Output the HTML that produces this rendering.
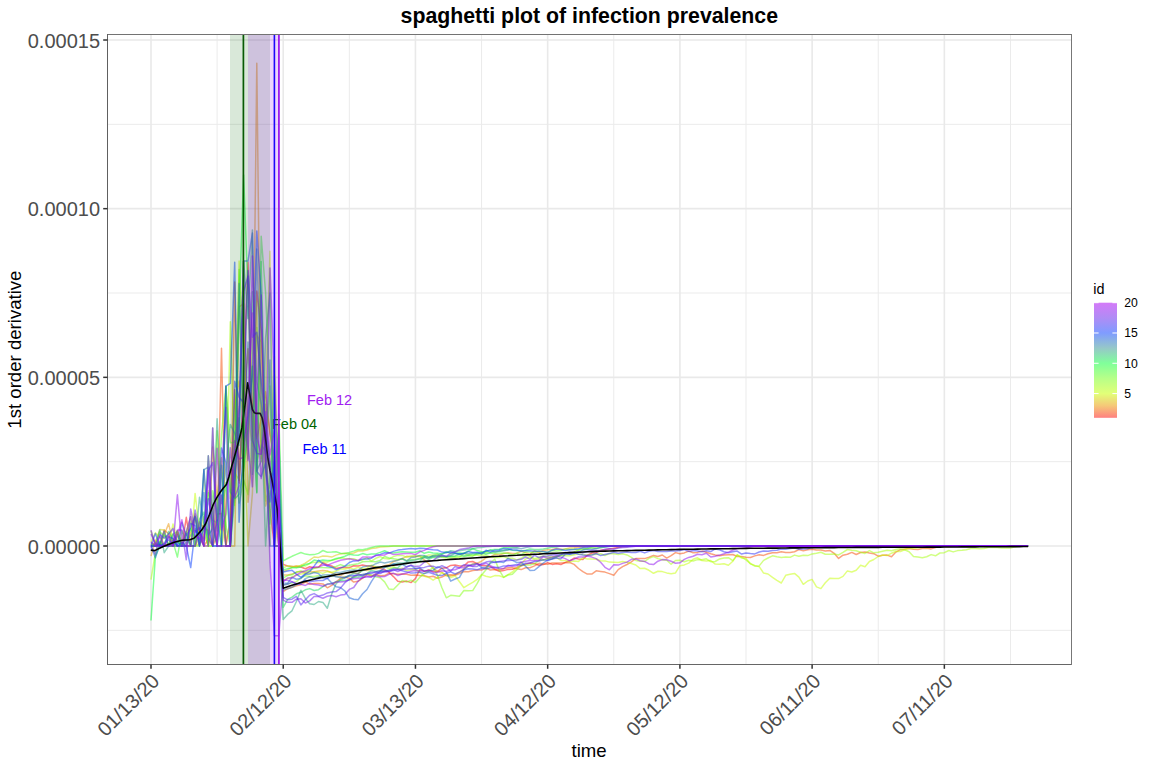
<!DOCTYPE html>
<html><head><meta charset="utf-8"><title>spaghetti plot of infection prevalence</title>
<style>html,body{margin:0;padding:0;background:#fff;overflow:hidden}svg{display:block}</style>
</head><body>
<svg width="1152" height="768" viewBox="0 0 1152 768">
<rect width="1152" height="768" fill="#fff"/>
<defs><clipPath id="pc"><rect x="107.5" y="34.5" width="964.0" height="630.0"/></clipPath></defs>
<g><line x1="217.11" y1="34.5" x2="217.11" y2="664.5" stroke="#ebebeb" stroke-width="1"/><line x1="349.34" y1="34.5" x2="349.34" y2="664.5" stroke="#ebebeb" stroke-width="1"/><line x1="481.56" y1="34.5" x2="481.56" y2="664.5" stroke="#ebebeb" stroke-width="1"/><line x1="613.79" y1="34.5" x2="613.79" y2="664.5" stroke="#ebebeb" stroke-width="1"/><line x1="746.01" y1="34.5" x2="746.01" y2="664.5" stroke="#ebebeb" stroke-width="1"/><line x1="878.24" y1="34.5" x2="878.24" y2="664.5" stroke="#ebebeb" stroke-width="1"/><line x1="1010.46" y1="34.5" x2="1010.46" y2="664.5" stroke="#ebebeb" stroke-width="1"/><line x1="107.5" y1="124.34" x2="1071.5" y2="124.34" stroke="#ebebeb" stroke-width="1"/><line x1="107.5" y1="293.00" x2="1071.5" y2="293.00" stroke="#ebebeb" stroke-width="1"/><line x1="107.5" y1="461.67" x2="1071.5" y2="461.67" stroke="#ebebeb" stroke-width="1"/><line x1="107.5" y1="630.33" x2="1071.5" y2="630.33" stroke="#ebebeb" stroke-width="1"/><line x1="151.00" y1="34.5" x2="151.00" y2="664.5" stroke="#e9e9e9" stroke-width="1.6"/><line x1="283.23" y1="34.5" x2="283.23" y2="664.5" stroke="#e9e9e9" stroke-width="1.6"/><line x1="415.45" y1="34.5" x2="415.45" y2="664.5" stroke="#e9e9e9" stroke-width="1.6"/><line x1="547.67" y1="34.5" x2="547.67" y2="664.5" stroke="#e9e9e9" stroke-width="1.6"/><line x1="679.90" y1="34.5" x2="679.90" y2="664.5" stroke="#e9e9e9" stroke-width="1.6"/><line x1="812.12" y1="34.5" x2="812.12" y2="664.5" stroke="#e9e9e9" stroke-width="1.6"/><line x1="944.35" y1="34.5" x2="944.35" y2="664.5" stroke="#e9e9e9" stroke-width="1.6"/><line x1="107.5" y1="40.01" x2="1071.5" y2="40.01" stroke="#e9e9e9" stroke-width="1.6"/><line x1="107.5" y1="208.67" x2="1071.5" y2="208.67" stroke="#e9e9e9" stroke-width="1.6"/><line x1="107.5" y1="377.34" x2="1071.5" y2="377.34" stroke="#e9e9e9" stroke-width="1.6"/><line x1="107.5" y1="546.00" x2="1071.5" y2="546.00" stroke="#e9e9e9" stroke-width="1.6"/></g>
<g clip-path="url(#pc)">
<polyline points="151.0,546.0 155.4,546.0 159.8,544.3 164.2,546.0 168.6,543.7 173.0,546.0 177.4,532.5 181.9,546.0 186.3,517.3 190.7,546.0 195.1,546.0 199.5,522.0 203.9,528.2 208.3,530.5 212.7,546.0 217.1,513.9 221.5,513.6 225.9,546.0 230.3,520.0 234.7,389.7 239.1,480.5 243.6,381.9 248.0,262.3 252.4,436.6 256.8,291.0 261.2,329.9 265.6,464.6 270.0,509.7 274.4,546.0 278.8,546.0 283.2,564.4 287.6,566.0 292.0,566.4 296.4,566.6 300.9,567.0 305.3,568.7 309.7,566.8 314.1,567.8 318.5,567.2 322.9,562.7 327.3,564.7 331.7,566.0 336.1,568.4 340.5,567.6 344.9,567.4 349.3,567.6 353.7,565.7 358.2,566.1 362.6,565.1 367.0,566.1 371.4,565.8 375.8,567.8 380.2,568.6 384.6,569.7 389.0,572.2 393.4,576.6 397.8,581.3 402.2,582.0 406.6,581.1 411.0,582.6 415.4,578.6 419.9,569.3 424.3,571.4 428.7,570.0 433.1,571.4 437.5,571.6 441.9,568.2 446.3,567.8 450.7,565.4 455.1,565.1 459.5,565.9 463.9,566.1 468.3,561.9 472.7,561.5 477.2,563.6 481.6,565.6 486.0,565.8 490.4,566.6 494.8,569.4 499.2,571.3 503.6,570.6 508.0,569.4 512.4,569.2 516.8,567.8 521.2,565.8 525.6,564.2 530.0,563.0 534.5,563.5 538.9,565.3 543.3,564.5 547.7,562.6 552.1,564.4 556.5,563.7 560.9,564.6 565.3,562.4 569.7,560.8 574.1,558.1 578.5,559.0 582.9,559.5 587.3,555.2 591.8,553.1 596.2,552.7 600.6,550.3 605.0,549.7 609.4,548.9 613.8,548.3 618.2,547.6 622.6,546.8 627.0,546.4 631.4,546.0 635.8,546.0 640.2,546.0 644.6,546.0 649.0,546.0 653.5,546.0 657.9,546.0 662.3,546.0 666.7,546.0 671.1,546.0 675.5,546.0 679.9,546.0 684.3,546.0 688.7,546.0 693.1,546.0 697.5,546.0 701.9,546.0 706.3,546.0 710.8,546.0 715.2,546.0 719.6,546.0 724.0,546.0 728.4,546.0 732.8,546.0 737.2,546.0 741.6,546.0 746.0,546.0 750.4,546.0 754.8,546.0 759.2,546.0 763.6,546.0 768.0,546.0 772.5,546.0 776.9,546.0 781.3,546.0 785.7,546.0 790.1,546.0 794.5,546.0 798.9,546.0 803.3,546.0 807.7,546.0 812.1,546.0 816.5,546.0 820.9,546.0 825.3,546.0 829.8,546.0 834.2,546.0 838.6,546.0 843.0,546.0 847.4,546.0 851.8,546.0 856.2,546.0 860.6,546.0 865.0,546.0 869.4,546.0 873.8,546.0 878.2,546.0 882.6,546.0 887.1,546.0 891.5,546.0 895.9,546.0 900.3,546.0 904.7,546.0 909.1,546.0 913.5,546.0 917.9,546.0 922.3,546.0 926.7,546.0 931.1,546.0 935.5,546.0 939.9,546.0 944.3,546.0 948.8,546.0 953.2,546.0 957.6,546.0 962.0,546.0 966.4,546.0 970.8,546.0 975.2,546.0 979.6,546.0 984.0,546.0 988.4,546.0 992.8,546.0 997.2,546.0 1001.6,546.0 1006.1,546.0 1010.5,546.0 1014.9,546.0 1019.3,546.0 1023.7,546.0 1028.1,546.0" fill="none" stroke="#ff0000" stroke-opacity="0.5" stroke-width="1.5" stroke-linejoin="round"/>
<polyline points="151.0,546.0 155.4,543.8 159.8,546.0 164.2,530.0 168.6,533.7 173.0,546.0 177.4,530.8 181.9,546.0 186.3,546.0 190.7,546.0 195.1,516.2 199.5,534.5 203.9,546.0 208.3,539.3 212.7,546.0 217.1,535.9 221.5,348.3 225.9,546.0 230.3,546.0 234.7,281.9 239.1,483.1 243.6,403.7 248.0,348.7 252.4,411.1 256.8,438.2 261.2,419.4 265.6,391.7 270.0,434.3 274.4,456.2 278.8,546.0 283.2,591.5 287.6,588.7 292.0,587.3 296.4,585.7 300.9,584.7 305.3,582.0 309.7,584.2 314.1,583.6 318.5,583.5 322.9,583.9 327.3,587.8 331.7,585.4 336.1,581.9 340.5,578.4 344.9,577.0 349.3,578.4 353.7,582.1 358.2,581.3 362.6,578.1 367.0,574.4 371.4,575.9 375.8,574.2 380.2,575.8 384.6,575.6 389.0,573.2 393.4,573.8 397.8,574.3 402.2,574.0 406.6,574.2 411.0,575.2 415.4,575.0 419.9,575.5 424.3,575.7 428.7,576.9 433.1,576.2 437.5,578.2 441.9,577.1 446.3,574.9 450.7,574.8 455.1,575.2 459.5,573.6 463.9,571.5 468.3,571.8 472.7,570.5 477.2,570.1 481.6,570.1 486.0,568.0 490.4,570.0 494.8,569.6 499.2,569.9 503.6,568.7 508.0,567.7 512.4,567.6 516.8,568.8 521.2,569.6 525.6,567.7 530.0,567.7 534.5,565.9 538.9,563.3 543.3,564.1 547.7,564.3 552.1,563.0 556.5,563.0 560.9,563.1 565.3,562.7 569.7,562.5 574.1,564.4 578.5,568.5 582.9,571.7 587.3,574.1 591.8,574.1 596.2,570.8 600.6,571.4 605.0,572.1 609.4,573.6 613.8,575.2 618.2,569.6 622.6,566.6 627.0,564.5 631.4,561.8 635.8,558.5 640.2,558.4 644.6,558.6 649.0,557.3 653.5,555.4 657.9,556.5 662.3,555.0 666.7,558.1 671.1,555.7 675.5,552.6 679.9,553.8 684.3,552.9 688.7,551.0 693.1,552.7 697.5,552.4 701.9,551.1 706.3,552.2 710.8,553.7 715.2,555.0 719.6,555.7 724.0,555.0 728.4,554.7 732.8,554.5 737.2,556.5 741.6,556.6 746.0,557.2 750.4,557.5 754.8,555.9 759.2,554.7 763.6,555.4 768.0,553.8 772.5,552.7 776.9,552.8 781.3,551.7 785.7,552.5 790.1,552.4 794.5,551.7 798.9,549.6 803.3,550.8 807.7,549.8 812.1,549.2 816.5,550.0 820.9,550.1 825.3,550.9 829.8,550.4 834.2,553.3 838.6,558.4 843.0,555.2 847.4,554.3 851.8,552.4 856.2,554.5 860.6,552.5 865.0,552.0 869.4,553.0 873.8,553.7 878.2,556.2 882.6,555.2 887.1,555.1 891.5,556.7 895.9,552.1 900.3,549.7 904.7,549.0 909.1,548.6 913.5,549.3 917.9,549.6 922.3,548.6 926.7,548.3 931.1,548.9 935.5,547.6 939.9,546.0 944.3,546.0 948.8,546.0 953.2,546.0 957.6,546.0 962.0,546.0 966.4,546.0 970.8,546.0 975.2,546.0 979.6,546.0 984.0,546.0 988.4,546.0 992.8,546.0 997.2,546.0 1001.6,546.0 1006.1,546.0 1010.5,546.0 1014.9,546.0 1019.3,546.0 1023.7,546.0 1028.1,546.0" fill="none" stroke="#f54800" stroke-opacity="0.5" stroke-width="1.5" stroke-linejoin="round"/>
<polyline points="151.0,556.1 155.4,540.2 159.8,546.0 164.2,534.8 168.6,523.7 173.0,542.8 177.4,546.0 181.9,546.0 186.3,546.0 190.7,532.8 195.1,513.8 199.5,546.0 203.9,533.9 208.3,546.0 212.7,447.0 217.1,499.8 221.5,457.8 225.9,546.0 230.3,546.0 234.7,546.0 239.1,306.9 243.6,303.7 248.0,502.3 252.4,454.9 256.8,63.3 261.2,458.3 265.6,404.3 270.0,431.8 274.4,466.8 278.8,546.0 283.2,575.0 287.6,574.9 292.0,574.1 296.4,572.3 300.9,571.2 305.3,573.0 309.7,571.4 314.1,571.7 318.5,570.9 322.9,570.4 327.3,571.0 331.7,572.8 336.1,574.2 340.5,575.6 344.9,573.2 349.3,572.7 353.7,572.6 358.2,573.8 362.6,569.6 367.0,570.5 371.4,569.1 375.8,569.1 380.2,567.5 384.6,565.8 389.0,564.8 393.4,561.7 397.8,559.9 402.2,558.7 406.6,556.3 411.0,556.5 415.4,556.6 419.9,556.4 424.3,559.9 428.7,563.7 433.1,568.3 437.5,571.2 441.9,572.4 446.3,575.8 450.7,576.1 455.1,574.7 459.5,572.0 463.9,568.9 468.3,566.2 472.7,563.9 477.2,563.2 481.6,561.2 486.0,557.8 490.4,556.8 494.8,554.3 499.2,555.0 503.6,553.5 508.0,552.7 512.4,553.4 516.8,553.2 521.2,551.2 525.6,552.7 530.0,554.2 534.5,550.8 538.9,552.5 543.3,550.5 547.7,549.8 552.1,549.6 556.5,548.5 560.9,549.3 565.3,548.9 569.7,548.1 574.1,547.8 578.5,547.2 582.9,546.9 587.3,546.4 591.8,546.0 596.2,546.0 600.6,546.0 605.0,546.0 609.4,546.0 613.8,546.0 618.2,546.0 622.6,546.0 627.0,546.0 631.4,546.0 635.8,546.0 640.2,546.0 644.6,546.0 649.0,546.0 653.5,546.0 657.9,546.0 662.3,546.0 666.7,546.0 671.1,546.0 675.5,546.0 679.9,546.0 684.3,546.0 688.7,546.0 693.1,546.0 697.5,546.0 701.9,546.0 706.3,546.0 710.8,546.0 715.2,546.0 719.6,546.0 724.0,546.0 728.4,546.0 732.8,546.0 737.2,546.0 741.6,546.0 746.0,546.0 750.4,546.0 754.8,546.0 759.2,546.0 763.6,546.0 768.0,546.0 772.5,546.0 776.9,546.0 781.3,546.0 785.7,546.0 790.1,546.0 794.5,546.0 798.9,546.0 803.3,546.0 807.7,546.0 812.1,546.0 816.5,546.0 820.9,546.0 825.3,546.0 829.8,546.0 834.2,546.0 838.6,546.0 843.0,546.0 847.4,546.0 851.8,546.0 856.2,546.0 860.6,546.0 865.0,546.0 869.4,546.0 873.8,546.0 878.2,546.0 882.6,546.0 887.1,546.0 891.5,546.0 895.9,546.0 900.3,546.0 904.7,546.0 909.1,546.0 913.5,546.0 917.9,546.0 922.3,546.0 926.7,546.0 931.1,546.0 935.5,546.0 939.9,546.0 944.3,546.0 948.8,546.0 953.2,546.0 957.6,546.0 962.0,546.0 966.4,546.0 970.8,546.0 975.2,546.0 979.6,546.0 984.0,546.0 988.4,546.0 992.8,546.0 997.2,546.0 1001.6,546.0 1006.1,546.0 1010.5,546.0 1014.9,546.0 1019.3,546.0 1023.7,546.0 1028.1,546.0" fill="none" stroke="#eb9100" stroke-opacity="0.5" stroke-width="1.5" stroke-linejoin="round"/>
<polyline points="151.0,546.0 155.4,542.5 159.8,529.5 164.2,530.0 168.6,546.0 173.0,546.0 177.4,546.0 181.9,546.0 186.3,546.0 190.7,546.0 195.1,546.0 199.5,543.3 203.9,537.4 208.3,490.7 212.7,508.4 217.1,546.0 221.5,546.0 225.9,546.0 230.3,546.0 234.7,405.2 239.1,380.9 243.6,420.6 248.0,546.0 252.4,493.5 256.8,335.1 261.2,342.2 265.6,506.0 270.0,490.8 274.4,503.9 278.8,546.0 283.2,571.5 287.6,569.9 292.0,567.4 296.4,565.7 300.9,565.5 305.3,563.1 309.7,560.1 314.1,557.0 318.5,557.4 322.9,556.0 327.3,556.3 331.7,557.1 336.1,555.1 340.5,553.9 344.9,553.2 349.3,553.7 353.7,553.0 358.2,551.0 362.6,551.0 367.0,550.0 371.4,548.6 375.8,548.0 380.2,547.1 384.6,546.7 389.0,546.4 393.4,546.0 397.8,546.0 402.2,546.0 406.6,546.0 411.0,546.0 415.4,546.0 419.9,546.0 424.3,546.0 428.7,546.0 433.1,546.0 437.5,546.0 441.9,546.0 446.3,546.0 450.7,546.0 455.1,546.0 459.5,546.0 463.9,546.0 468.3,546.0 472.7,546.0 477.2,546.0 481.6,546.0 486.0,546.0 490.4,546.0 494.8,546.0 499.2,546.0 503.6,546.0 508.0,546.0 512.4,546.0 516.8,546.0 521.2,546.0 525.6,546.0 530.0,546.0 534.5,546.0 538.9,546.0 543.3,546.0 547.7,546.0 552.1,546.0 556.5,546.0 560.9,546.0 565.3,546.0 569.7,546.0 574.1,546.0 578.5,546.0 582.9,546.0 587.3,546.0 591.8,546.0 596.2,546.0 600.6,546.0 605.0,546.0 609.4,546.0 613.8,546.0 618.2,546.0 622.6,546.0 627.0,546.0 631.4,546.0 635.8,546.0 640.2,546.0 644.6,546.0 649.0,546.0 653.5,546.0 657.9,546.0 662.3,546.0 666.7,546.0 671.1,546.0 675.5,546.0 679.9,546.0 684.3,546.0 688.7,546.0 693.1,546.0 697.5,546.0 701.9,546.0 706.3,546.0 710.8,546.0 715.2,546.0 719.6,546.0 724.0,546.0 728.4,546.0 732.8,546.0 737.2,546.0 741.6,546.0 746.0,546.0 750.4,546.0 754.8,546.0 759.2,546.0 763.6,546.0 768.0,546.0 772.5,546.0 776.9,546.0 781.3,546.0 785.7,546.0 790.1,546.0 794.5,546.0 798.9,546.0 803.3,546.0 807.7,546.0 812.1,546.0 816.5,546.0 820.9,546.0 825.3,546.0 829.8,546.0 834.2,546.0 838.6,546.0 843.0,546.0 847.4,546.0 851.8,546.0 856.2,546.0 860.6,546.0 865.0,546.0 869.4,546.0 873.8,546.0 878.2,546.0 882.6,546.0 887.1,546.0 891.5,546.0 895.9,546.0 900.3,546.0 904.7,546.0 909.1,546.0 913.5,546.0 917.9,546.0 922.3,546.0 926.7,546.0 931.1,546.0 935.5,546.0 939.9,546.0 944.3,546.0 948.8,546.0 953.2,546.0 957.6,546.0 962.0,546.0 966.4,546.0 970.8,546.0 975.2,546.0 979.6,546.0 984.0,546.0 988.4,546.0 992.8,546.0 997.2,546.0 1001.6,546.0 1006.1,546.0 1010.5,546.0 1014.9,546.0 1019.3,546.0 1023.7,546.0 1028.1,546.0" fill="none" stroke="#d8c800" stroke-opacity="0.5" stroke-width="1.5" stroke-linejoin="round"/>
<polyline points="151.0,541.9 155.4,532.7 159.8,537.2 164.2,544.0 168.6,546.0 173.0,523.9 177.4,539.8 181.9,546.0 186.3,546.0 190.7,546.0 195.1,493.4 199.5,531.6 203.9,516.3 208.3,546.0 212.7,524.3 217.1,546.0 221.5,546.0 225.9,386.2 230.3,491.1 234.7,505.4 239.1,261.0 243.6,346.0 248.0,415.6 252.4,446.1 256.8,301.2 261.2,461.6 265.6,393.2 270.0,251.2 274.4,546.0 278.8,522.3 283.2,579.9 287.6,578.8 292.0,576.9 296.4,575.2 300.9,574.1 305.3,573.5 309.7,573.5 314.1,572.0 318.5,572.2 322.9,573.4 327.3,571.6 331.7,572.2 336.1,571.1 340.5,569.0 344.9,569.0 349.3,567.9 353.7,569.1 358.2,567.2 362.6,568.8 367.0,568.2 371.4,565.1 375.8,566.7 380.2,567.7 384.6,566.5 389.0,568.5 393.4,566.8 397.8,568.9 402.2,568.2 406.6,570.7 411.0,569.7 415.4,569.2 419.9,572.6 424.3,576.3 428.7,577.4 433.1,580.2 437.5,577.3 441.9,572.6 446.3,575.0 450.7,577.6 455.1,576.0 459.5,581.8 463.9,587.7 468.3,584.9 472.7,582.4 477.2,579.4 481.6,574.6 486.0,576.2 490.4,577.2 494.8,575.6 499.2,575.7 503.6,577.4 508.0,574.6 512.4,572.0 516.8,567.8 521.2,563.8 525.6,558.9 530.0,557.1 534.5,559.7 538.9,558.7 543.3,559.8 547.7,558.7 552.1,558.9 556.5,557.6 560.9,560.4 565.3,560.5 569.7,561.7 574.1,561.1 578.5,561.4 582.9,557.8 587.3,559.1 591.8,558.9 596.2,559.3 600.6,560.7 605.0,560.9 609.4,562.1 613.8,562.3 618.2,562.5 622.6,561.5 627.0,562.3 631.4,563.5 635.8,565.0 640.2,568.6 644.6,568.2 649.0,570.3 653.5,573.3 657.9,571.2 662.3,571.6 666.7,572.9 671.1,573.7 675.5,572.9 679.9,565.7 684.3,564.9 688.7,563.1 693.1,559.3 697.5,557.8 701.9,560.5 706.3,561.0 710.8,560.5 715.2,564.1 719.6,564.3 724.0,563.8 728.4,565.3 732.8,561.3 737.2,554.7 741.6,558.1 746.0,558.6 750.4,563.7 754.8,565.4 759.2,566.7 763.6,573.1 768.0,574.0 772.5,577.3 776.9,580.4 781.3,583.0 785.7,575.3 790.1,574.3 794.5,573.4 798.9,577.1 803.3,584.3 807.7,581.0 812.1,579.4 816.5,586.9 820.9,588.6 825.3,582.7 829.8,578.3 834.2,578.6 838.6,578.6 843.0,576.4 847.4,570.9 851.8,572.0 856.2,570.2 860.6,565.3 865.0,566.7 869.4,561.5 873.8,559.5 878.2,556.5 882.6,555.0 887.1,555.6 891.5,553.2 895.9,551.2 900.3,551.5 904.7,549.7 909.1,548.2 913.5,548.4 917.9,547.7 922.3,547.5 926.7,547.5 931.1,547.3 935.5,547.0 939.9,546.8 944.3,546.7 948.8,546.7 953.2,546.3 957.6,546.1 962.0,546.0 966.4,546.0 970.8,546.0 975.2,546.0 979.6,546.0 984.0,546.0 988.4,546.0 992.8,546.0 997.2,546.0 1001.6,546.0 1006.1,546.0 1010.5,546.0 1014.9,546.0 1019.3,546.0 1023.7,546.0 1028.1,546.0" fill="none" stroke="#c5ff00" stroke-opacity="0.5" stroke-width="1.5" stroke-linejoin="round"/>
<polyline points="151.0,579.7 155.4,552.7 159.8,540.9 164.2,546.0 168.6,546.0 173.0,546.0 177.4,546.0 181.9,546.0 186.3,531.5 190.7,516.6 195.1,546.0 199.5,538.1 203.9,469.6 208.3,546.0 212.7,546.0 217.1,497.0 221.5,546.0 225.9,524.3 230.3,321.7 234.7,472.9 239.1,479.9 243.6,409.4 248.0,458.9 252.4,337.4 256.8,411.8 261.2,443.5 265.6,500.9 270.0,484.9 274.4,356.3 278.8,482.4 283.2,568.0 287.6,565.7 292.0,566.6 296.4,567.5 300.9,565.3 305.3,566.1 309.7,563.3 314.1,562.2 318.5,562.5 322.9,561.8 327.3,562.0 331.7,560.3 336.1,559.2 340.5,557.8 344.9,558.4 349.3,558.8 353.7,558.8 358.2,560.6 362.6,559.9 367.0,557.7 371.4,561.1 375.8,558.3 380.2,556.6 384.6,558.6 389.0,559.0 393.4,556.6 397.8,555.4 402.2,555.4 406.6,557.3 411.0,556.3 415.4,555.4 419.9,555.7 424.3,557.1 428.7,554.9 433.1,555.3 437.5,554.3 441.9,557.3 446.3,558.0 450.7,558.1 455.1,557.6 459.5,557.2 463.9,553.4 468.3,555.1 472.7,555.3 477.2,555.3 481.6,555.1 486.0,555.4 490.4,556.8 494.8,557.5 499.2,557.5 503.6,556.6 508.0,558.2 512.4,558.3 516.8,559.9 521.2,558.3 525.6,555.2 530.0,556.1 534.5,558.6 538.9,557.2 543.3,556.1 547.7,556.9 552.1,556.8 556.5,556.7 560.9,555.6 565.3,555.7 569.7,555.7 574.1,554.7 578.5,553.8 582.9,554.5 587.3,555.2 591.8,554.7 596.2,554.2 600.6,553.7 605.0,555.5 609.4,553.6 613.8,553.7 618.2,554.4 622.6,553.8 627.0,554.9 631.4,557.3 635.8,560.5 640.2,561.3 644.6,561.3 649.0,558.4 653.5,556.6 657.9,558.6 662.3,559.8 666.7,560.3 671.1,564.3 675.5,560.5 679.9,560.3 684.3,561.8 688.7,560.3 693.1,561.0 697.5,559.6 701.9,559.7 706.3,558.8 710.8,561.7 715.2,561.5 719.6,558.9 724.0,558.0 728.4,557.7 732.8,560.6 737.2,555.1 741.6,557.1 746.0,559.9 750.4,563.6 754.8,566.2 759.2,565.9 763.6,560.4 768.0,558.0 772.5,555.8 776.9,556.8 781.3,557.4 785.7,557.1 790.1,557.3 794.5,555.1 798.9,556.3 803.3,555.3 807.7,555.6 812.1,553.9 816.5,553.2 820.9,552.2 825.3,554.2 829.8,554.2 834.2,553.9 838.6,554.9 843.0,552.3 847.4,549.5 851.8,550.3 856.2,550.8 860.6,552.3 865.0,553.4 869.4,550.6 873.8,552.8 878.2,552.3 882.6,551.2 887.1,550.2 891.5,550.8 895.9,549.5 900.3,548.7 904.7,549.8 909.1,551.7 913.5,556.4 917.9,557.1 922.3,557.8 926.7,556.7 931.1,554.6 935.5,555.8 939.9,553.0 944.3,552.7 948.8,550.5 953.2,551.9 957.6,550.6 962.0,550.3 966.4,549.7 970.8,548.5 975.2,548.6 979.6,548.7 984.0,548.5 988.4,547.5 992.8,547.2 997.2,547.6 1001.6,548.1 1006.1,548.1 1010.5,548.1 1014.9,546.9 1019.3,546.0 1023.7,546.0 1028.1,546.0" fill="none" stroke="#a3ff07" stroke-opacity="0.5" stroke-width="1.5" stroke-linejoin="round"/>
<polyline points="151.0,530.8 155.4,546.0 159.8,531.8 164.2,536.0 168.6,537.1 173.0,542.1 177.4,531.1 181.9,546.0 186.3,535.1 190.7,521.4 195.1,546.0 199.5,528.7 203.9,546.0 208.3,546.0 212.7,546.0 217.1,430.7 221.5,546.0 225.9,386.2 230.3,498.6 234.7,467.1 239.1,503.0 243.6,479.8 248.0,494.5 252.4,432.5 256.8,327.5 261.2,388.5 265.6,420.4 270.0,546.0 274.4,450.8 278.8,525.5 283.2,584.9 287.6,584.1 292.0,582.9 296.4,581.6 300.9,578.0 305.3,575.7 309.7,576.5 314.1,576.4 318.5,575.5 322.9,576.4 327.3,576.6 331.7,576.0 336.1,576.4 340.5,577.7 344.9,577.0 349.3,576.1 353.7,577.5 358.2,574.8 362.6,574.6 367.0,574.1 371.4,575.1 375.8,576.7 380.2,577.7 384.6,581.9 389.0,589.1 393.4,589.4 397.8,584.9 402.2,580.4 406.6,582.0 411.0,580.2 415.4,582.6 419.9,577.3 424.3,573.4 428.7,571.3 433.1,567.1 437.5,575.4 441.9,587.7 446.3,597.8 450.7,595.3 455.1,595.8 459.5,596.3 463.9,590.5 468.3,590.7 472.7,590.6 477.2,583.4 481.6,575.1 486.0,569.8 490.4,562.3 494.8,559.3 499.2,570.1 503.6,577.4 508.0,575.0 512.4,574.2 516.8,569.7 521.2,565.6 525.6,565.1 530.0,564.9 534.5,563.8 538.9,560.5 543.3,560.1 547.7,558.7 552.1,557.5 556.5,556.3 560.9,554.9 565.3,554.5 569.7,553.0 574.1,551.9 578.5,550.0 582.9,549.5 587.3,548.5 591.8,547.1 596.2,546.9 600.6,546.4 605.0,546.0 609.4,546.0 613.8,546.0 618.2,546.0 622.6,546.0 627.0,546.0 631.4,546.0 635.8,546.0 640.2,546.0 644.6,546.0 649.0,546.0 653.5,546.0 657.9,546.0 662.3,546.0 666.7,546.0 671.1,546.0 675.5,546.0 679.9,546.0 684.3,546.0 688.7,546.0 693.1,546.0 697.5,546.0 701.9,546.0 706.3,546.0 710.8,546.0 715.2,546.0 719.6,546.0 724.0,546.0 728.4,546.0 732.8,546.0 737.2,546.0 741.6,546.0 746.0,546.0 750.4,546.0 754.8,546.0 759.2,546.0 763.6,546.0 768.0,546.0 772.5,546.0 776.9,546.0 781.3,546.0 785.7,546.0 790.1,546.0 794.5,546.0 798.9,546.0 803.3,546.0 807.7,546.0 812.1,546.0 816.5,546.0 820.9,546.0 825.3,546.0 829.8,546.0 834.2,546.0 838.6,546.0 843.0,546.0 847.4,546.0 851.8,546.0 856.2,546.0 860.6,546.0 865.0,546.0 869.4,546.0 873.8,546.0 878.2,546.0 882.6,546.0 887.1,546.0 891.5,546.0 895.9,546.0 900.3,546.0 904.7,546.0 909.1,546.0 913.5,546.0 917.9,546.0 922.3,546.0 926.7,546.0 931.1,546.0 935.5,546.0 939.9,546.0 944.3,546.0 948.8,546.0 953.2,546.0 957.6,546.0 962.0,546.0 966.4,546.0 970.8,546.0 975.2,546.0 979.6,546.0 984.0,546.0 988.4,546.0 992.8,546.0 997.2,546.0 1001.6,546.0 1006.1,546.0 1010.5,546.0 1014.9,546.0 1019.3,546.0 1023.7,546.0 1028.1,546.0" fill="none" stroke="#82ff0e" stroke-opacity="0.5" stroke-width="1.5" stroke-linejoin="round"/>
<polyline points="151.0,544.3 155.4,546.0 159.8,546.0 164.2,546.0 168.6,546.0 173.0,533.9 177.4,531.7 181.9,543.1 186.3,531.4 190.7,546.0 195.1,546.0 199.5,546.0 203.9,521.9 208.3,546.0 212.7,490.8 217.1,514.9 221.5,435.0 225.9,386.2 230.3,442.8 234.7,442.2 239.1,269.4 243.6,445.5 248.0,430.3 252.4,366.2 256.8,461.5 261.2,444.9 265.6,450.7 270.0,386.1 274.4,546.0 278.8,546.0 283.2,577.9 287.6,575.6 292.0,574.8 296.4,572.1 300.9,571.3 305.3,571.5 309.7,570.3 314.1,568.3 318.5,567.4 322.9,567.6 327.3,567.7 331.7,567.8 336.1,566.5 340.5,564.6 344.9,566.3 349.3,565.2 353.7,564.5 358.2,563.8 362.6,561.7 367.0,561.4 371.4,561.4 375.8,561.7 380.2,560.4 384.6,556.5 389.0,558.0 393.4,558.7 397.8,559.5 402.2,559.0 406.6,560.5 411.0,559.7 415.4,559.3 419.9,558.6 424.3,555.9 428.7,557.1 433.1,557.1 437.5,555.8 441.9,556.6 446.3,556.9 450.7,556.2 455.1,556.5 459.5,556.6 463.9,556.7 468.3,555.8 472.7,556.2 477.2,553.5 481.6,554.0 486.0,552.5 490.4,552.9 494.8,553.7 499.2,553.2 503.6,553.1 508.0,553.4 512.4,555.2 516.8,553.2 521.2,554.6 525.6,552.1 530.0,552.1 534.5,552.5 538.9,551.2 543.3,551.8 547.7,552.3 552.1,550.5 556.5,550.9 560.9,550.5 565.3,548.9 569.7,549.5 574.1,549.0 578.5,549.7 582.9,548.5 587.3,549.1 591.8,548.1 596.2,548.4 600.6,547.7 605.0,546.9 609.4,546.1 613.8,546.0 618.2,546.0 622.6,546.0 627.0,546.0 631.4,546.0 635.8,546.0 640.2,546.0 644.6,546.0 649.0,546.0 653.5,546.0 657.9,546.0 662.3,546.0 666.7,546.0 671.1,546.0 675.5,546.0 679.9,546.0 684.3,546.0 688.7,546.0 693.1,546.0 697.5,546.0 701.9,546.0 706.3,546.0 710.8,546.0 715.2,546.0 719.6,546.0 724.0,546.0 728.4,546.0 732.8,546.0 737.2,546.0 741.6,546.0 746.0,546.0 750.4,546.0 754.8,546.0 759.2,546.0 763.6,546.0 768.0,546.0 772.5,546.0 776.9,546.0 781.3,546.0 785.7,546.0 790.1,546.0 794.5,546.0 798.9,546.0 803.3,546.0 807.7,546.0 812.1,546.0 816.5,546.0 820.9,546.0 825.3,546.0 829.8,546.0 834.2,546.0 838.6,546.0 843.0,546.0 847.4,546.0 851.8,546.0 856.2,546.0 860.6,546.0 865.0,546.0 869.4,546.0 873.8,546.0 878.2,546.0 882.6,546.0 887.1,546.0 891.5,546.0 895.9,546.0 900.3,546.0 904.7,546.0 909.1,546.0 913.5,546.0 917.9,546.0 922.3,546.0 926.7,546.0 931.1,546.0 935.5,546.0 939.9,546.0 944.3,546.0 948.8,546.0 953.2,546.0 957.6,546.0 962.0,546.0 966.4,546.0 970.8,546.0 975.2,546.0 979.6,546.0 984.0,546.0 988.4,546.0 992.8,546.0 997.2,546.0 1001.6,546.0 1006.1,546.0 1010.5,546.0 1014.9,546.0 1019.3,546.0 1023.7,546.0 1028.1,546.0" fill="none" stroke="#5bff18" stroke-opacity="0.5" stroke-width="1.5" stroke-linejoin="round"/>
<polyline points="151.0,546.0 155.4,546.0 159.8,543.5 164.2,534.8 168.6,546.0 173.0,541.9 177.4,557.1 181.9,530.6 186.3,540.6 190.7,535.5 195.1,528.4 199.5,540.6 203.9,529.3 208.3,455.7 212.7,520.2 217.1,522.8 221.5,495.6 225.9,525.3 230.3,546.0 234.7,457.1 239.1,417.7 243.6,471.2 248.0,432.0 252.4,366.2 256.8,493.0 261.2,236.3 265.6,293.0 270.0,396.9 274.4,524.1 278.8,414.0 283.2,560.8 287.6,558.5 292.0,556.3 296.4,554.4 300.9,552.5 305.3,554.1 309.7,554.7 314.1,554.6 318.5,553.4 322.9,550.5 327.3,552.3 331.7,552.1 336.1,551.8 340.5,553.3 344.9,553.4 349.3,552.4 353.7,551.1 358.2,549.5 362.6,549.8 367.0,548.8 371.4,547.5 375.8,546.6 380.2,546.0 384.6,546.0 389.0,546.0 393.4,546.0 397.8,546.0 402.2,546.0 406.6,546.0 411.0,546.0 415.4,546.0 419.9,546.0 424.3,546.0 428.7,546.0 433.1,546.0 437.5,546.0 441.9,546.0 446.3,546.0 450.7,546.0 455.1,546.0 459.5,546.0 463.9,546.0 468.3,546.0 472.7,546.0 477.2,546.0 481.6,546.0 486.0,546.0 490.4,546.0 494.8,546.0 499.2,546.0 503.6,546.0 508.0,546.0 512.4,546.0 516.8,546.0 521.2,546.0 525.6,546.0 530.0,546.0 534.5,546.0 538.9,546.0 543.3,546.0 547.7,546.0 552.1,546.0 556.5,546.0 560.9,546.0 565.3,546.0 569.7,546.0 574.1,546.0 578.5,546.0 582.9,546.0 587.3,546.0 591.8,546.0 596.2,546.0 600.6,546.0 605.0,546.0 609.4,546.0 613.8,546.0 618.2,546.0 622.6,546.0 627.0,546.0 631.4,546.0 635.8,546.0 640.2,546.0 644.6,546.0 649.0,546.0 653.5,546.0 657.9,546.0 662.3,546.0 666.7,546.0 671.1,546.0 675.5,546.0 679.9,546.0 684.3,546.0 688.7,546.0 693.1,546.0 697.5,546.0 701.9,546.0 706.3,546.0 710.8,546.0 715.2,546.0 719.6,546.0 724.0,546.0 728.4,546.0 732.8,546.0 737.2,546.0 741.6,546.0 746.0,546.0 750.4,546.0 754.8,546.0 759.2,546.0 763.6,546.0 768.0,546.0 772.5,546.0 776.9,546.0 781.3,546.0 785.7,546.0 790.1,546.0 794.5,546.0 798.9,546.0 803.3,546.0 807.7,546.0 812.1,546.0 816.5,546.0 820.9,546.0 825.3,546.0 829.8,546.0 834.2,546.0 838.6,546.0 843.0,546.0 847.4,546.0 851.8,546.0 856.2,546.0 860.6,546.0 865.0,546.0 869.4,546.0 873.8,546.0 878.2,546.0 882.6,546.0 887.1,546.0 891.5,546.0 895.9,546.0 900.3,546.0 904.7,546.0 909.1,546.0 913.5,546.0 917.9,546.0 922.3,546.0 926.7,546.0 931.1,546.0 935.5,546.0 939.9,546.0 944.3,546.0 948.8,546.0 953.2,546.0 957.6,546.0 962.0,546.0 966.4,546.0 970.8,546.0 975.2,546.0 979.6,546.0 984.0,546.0 988.4,546.0 992.8,546.0 997.2,546.0 1001.6,546.0 1006.1,546.0 1010.5,546.0 1014.9,546.0 1019.3,546.0 1023.7,546.0 1028.1,546.0" fill="none" stroke="#2eff27" stroke-opacity="0.5" stroke-width="1.5" stroke-linejoin="round"/>
<polyline points="151.0,620.5 155.4,556.1 159.8,546.0 164.2,546.0 168.6,546.0 173.0,546.0 177.4,541.7 181.9,546.0 186.3,542.6 190.7,528.7 195.1,538.3 199.5,534.3 203.9,546.0 208.3,492.7 212.7,523.3 217.1,546.0 221.5,515.6 225.9,482.6 230.3,546.0 234.7,460.8 239.1,309.9 243.6,174.9 248.0,293.0 252.4,426.9 256.8,492.3 261.2,261.4 265.6,443.2 270.0,523.9 274.4,375.7 278.8,546.0 283.2,569.9 287.6,568.6 292.0,567.8 296.4,567.8 300.9,566.9 305.3,564.5 309.7,563.5 314.1,560.1 318.5,561.0 322.9,560.1 327.3,560.4 331.7,560.2 336.1,558.5 340.5,557.8 344.9,556.3 349.3,554.2 353.7,555.1 358.2,555.2 362.6,553.6 367.0,554.7 371.4,554.0 375.8,553.9 380.2,552.4 384.6,550.8 389.0,552.7 393.4,553.0 397.8,552.2 402.2,551.7 406.6,551.9 411.0,552.3 415.4,552.2 419.9,550.8 424.3,553.3 428.7,552.0 433.1,552.9 437.5,553.3 441.9,553.9 446.3,551.8 450.7,553.6 455.1,553.3 459.5,553.1 463.9,553.3 468.3,551.3 472.7,548.5 477.2,550.6 481.6,551.7 486.0,551.5 490.4,549.9 494.8,549.4 499.2,549.2 503.6,547.8 508.0,547.5 512.4,547.1 516.8,546.9 521.2,546.1 525.6,546.0 530.0,546.0 534.5,546.0 538.9,546.0 543.3,546.0 547.7,546.0 552.1,546.0 556.5,546.0 560.9,546.0 565.3,546.0 569.7,546.0 574.1,546.0 578.5,546.0 582.9,546.0 587.3,546.0 591.8,546.0 596.2,546.0 600.6,546.0 605.0,546.0 609.4,546.0 613.8,546.0 618.2,546.0 622.6,546.0 627.0,546.0 631.4,546.0 635.8,546.0 640.2,546.0 644.6,546.0 649.0,546.0 653.5,546.0 657.9,546.0 662.3,546.0 666.7,546.0 671.1,546.0 675.5,546.0 679.9,546.0 684.3,546.0 688.7,546.0 693.1,546.0 697.5,546.0 701.9,546.0 706.3,546.0 710.8,546.0 715.2,546.0 719.6,546.0 724.0,546.0 728.4,546.0 732.8,546.0 737.2,546.0 741.6,546.0 746.0,546.0 750.4,546.0 754.8,546.0 759.2,546.0 763.6,546.0 768.0,546.0 772.5,546.0 776.9,546.0 781.3,546.0 785.7,546.0 790.1,546.0 794.5,546.0 798.9,546.0 803.3,546.0 807.7,546.0 812.1,546.0 816.5,546.0 820.9,546.0 825.3,546.0 829.8,546.0 834.2,546.0 838.6,546.0 843.0,546.0 847.4,546.0 851.8,546.0 856.2,546.0 860.6,546.0 865.0,546.0 869.4,546.0 873.8,546.0 878.2,546.0 882.6,546.0 887.1,546.0 891.5,546.0 895.9,546.0 900.3,546.0 904.7,546.0 909.1,546.0 913.5,546.0 917.9,546.0 922.3,546.0 926.7,546.0 931.1,546.0 935.5,546.0 939.9,546.0 944.3,546.0 948.8,546.0 953.2,546.0 957.6,546.0 962.0,546.0 966.4,546.0 970.8,546.0 975.2,546.0 979.6,546.0 984.0,546.0 988.4,546.0 992.8,546.0 997.2,546.0 1001.6,546.0 1006.1,546.0 1010.5,546.0 1014.9,546.0 1019.3,546.0 1023.7,546.0 1028.1,546.0" fill="none" stroke="#01ff35" stroke-opacity="0.5" stroke-width="1.5" stroke-linejoin="round"/>
<polyline points="151.0,542.7 155.4,546.0 159.8,541.5 164.2,546.0 168.6,531.4 173.0,540.2 177.4,546.0 181.9,546.0 186.3,546.0 190.7,546.0 195.1,546.0 199.5,519.1 203.9,512.1 208.3,546.0 212.7,427.9 217.1,530.9 221.5,465.2 225.9,546.0 230.3,546.0 234.7,499.1 239.1,494.3 243.6,467.2 248.0,421.5 252.4,291.8 256.8,381.8 261.2,404.5 265.6,546.0 270.0,473.1 274.4,475.0 278.8,430.8 283.2,607.4 287.6,599.4 292.0,597.1 296.4,593.8 300.9,592.3 305.3,589.8 309.7,588.6 314.1,590.5 318.5,589.7 322.9,586.7 327.3,584.1 331.7,583.6 336.1,581.7 340.5,580.8 344.9,580.4 349.3,580.1 353.7,577.2 358.2,577.0 362.6,575.9 367.0,573.3 371.4,570.5 375.8,571.4 380.2,570.7 384.6,571.4 389.0,570.0 393.4,568.1 397.8,567.7 402.2,564.0 406.6,563.4 411.0,562.0 415.4,562.8 419.9,561.1 424.3,556.6 428.7,559.3 433.1,557.3 437.5,557.9 441.9,556.5 446.3,556.5 450.7,556.6 455.1,555.9 459.5,554.2 463.9,555.8 468.3,554.9 472.7,554.0 477.2,554.1 481.6,552.6 486.0,554.2 490.4,552.7 494.8,552.1 499.2,551.5 503.6,550.2 508.0,549.5 512.4,550.2 516.8,550.4 521.2,550.9 525.6,550.3 530.0,549.0 534.5,549.4 538.9,549.5 543.3,549.1 547.7,548.2 552.1,547.2 556.5,546.9 560.9,546.1 565.3,546.0 569.7,546.0 574.1,546.0 578.5,546.0 582.9,546.0 587.3,546.0 591.8,546.0 596.2,546.0 600.6,546.0 605.0,546.0 609.4,546.0 613.8,546.0 618.2,546.0 622.6,546.0 627.0,546.0 631.4,546.0 635.8,546.0 640.2,546.0 644.6,546.0 649.0,546.0 653.5,546.0 657.9,546.0 662.3,546.0 666.7,546.0 671.1,546.0 675.5,546.0 679.9,546.0 684.3,546.0 688.7,546.0 693.1,546.0 697.5,546.0 701.9,546.0 706.3,546.0 710.8,546.0 715.2,546.0 719.6,546.0 724.0,546.0 728.4,546.0 732.8,546.0 737.2,546.0 741.6,546.0 746.0,546.0 750.4,546.0 754.8,546.0 759.2,546.0 763.6,546.0 768.0,546.0 772.5,546.0 776.9,546.0 781.3,546.0 785.7,546.0 790.1,546.0 794.5,546.0 798.9,546.0 803.3,546.0 807.7,546.0 812.1,546.0 816.5,546.0 820.9,546.0 825.3,546.0 829.8,546.0 834.2,546.0 838.6,546.0 843.0,546.0 847.4,546.0 851.8,546.0 856.2,546.0 860.6,546.0 865.0,546.0 869.4,546.0 873.8,546.0 878.2,546.0 882.6,546.0 887.1,546.0 891.5,546.0 895.9,546.0 900.3,546.0 904.7,546.0 909.1,546.0 913.5,546.0 917.9,546.0 922.3,546.0 926.7,546.0 931.1,546.0 935.5,546.0 939.9,546.0 944.3,546.0 948.8,546.0 953.2,546.0 957.6,546.0 962.0,546.0 966.4,546.0 970.8,546.0 975.2,546.0 979.6,546.0 984.0,546.0 988.4,546.0 992.8,546.0 997.2,546.0 1001.6,546.0 1006.1,546.0 1010.5,546.0 1014.9,546.0 1019.3,546.0 1023.7,546.0 1028.1,546.0" fill="none" stroke="#13d35a" stroke-opacity="0.5" stroke-width="1.5" stroke-linejoin="round"/>
<polyline points="151.0,546.0 155.4,546.0 159.8,529.9 164.2,552.7 168.6,546.0 173.0,533.9 177.4,541.7 181.9,546.0 186.3,537.1 190.7,546.0 195.1,546.0 199.5,497.3 203.9,522.0 208.3,535.1 212.7,528.8 217.1,418.7 221.5,503.5 225.9,468.3 230.3,424.4 234.7,433.4 239.1,445.4 243.6,261.1 248.0,318.5 252.4,229.9 256.8,470.8 261.2,461.3 265.6,337.7 270.0,293.0 274.4,546.0 278.8,546.0 283.2,619.5 287.6,614.4 292.0,610.8 296.4,601.5 300.9,590.3 305.3,598.4 309.7,603.7 314.1,604.5 318.5,601.5 322.9,602.4 327.3,608.2 331.7,593.9 336.1,583.7 340.5,579.7 344.9,577.7 349.3,575.4 353.7,573.5 358.2,573.3 362.6,570.5 367.0,569.4 371.4,568.6 375.8,567.4 380.2,567.8 384.6,566.6 389.0,565.9 393.4,564.0 397.8,563.0 402.2,563.1 406.6,562.2 411.0,560.4 415.4,559.9 419.9,558.8 424.3,557.6 428.7,558.0 433.1,555.4 437.5,554.9 441.9,554.1 446.3,552.6 450.7,550.7 455.1,551.5 459.5,550.8 463.9,550.0 468.3,549.3 472.7,548.7 477.2,547.8 481.6,547.5 486.0,546.7 490.4,546.4 494.8,546.0 499.2,546.0 503.6,546.0 508.0,546.0 512.4,546.0 516.8,546.0 521.2,546.0 525.6,546.0 530.0,546.0 534.5,546.0 538.9,546.0 543.3,546.0 547.7,546.0 552.1,546.0 556.5,546.0 560.9,546.0 565.3,546.0 569.7,546.0 574.1,546.0 578.5,546.0 582.9,546.0 587.3,546.0 591.8,546.0 596.2,546.0 600.6,546.0 605.0,546.0 609.4,546.0 613.8,546.0 618.2,546.0 622.6,546.0 627.0,546.0 631.4,546.0 635.8,546.0 640.2,546.0 644.6,546.0 649.0,546.0 653.5,546.0 657.9,546.0 662.3,546.0 666.7,546.0 671.1,546.0 675.5,546.0 679.9,546.0 684.3,546.0 688.7,546.0 693.1,546.0 697.5,546.0 701.9,546.0 706.3,546.0 710.8,546.0 715.2,546.0 719.6,546.0 724.0,546.0 728.4,546.0 732.8,546.0 737.2,546.0 741.6,546.0 746.0,546.0 750.4,546.0 754.8,546.0 759.2,546.0 763.6,546.0 768.0,546.0 772.5,546.0 776.9,546.0 781.3,546.0 785.7,546.0 790.1,546.0 794.5,546.0 798.9,546.0 803.3,546.0 807.7,546.0 812.1,546.0 816.5,546.0 820.9,546.0 825.3,546.0 829.8,546.0 834.2,546.0 838.6,546.0 843.0,546.0 847.4,546.0 851.8,546.0 856.2,546.0 860.6,546.0 865.0,546.0 869.4,546.0 873.8,546.0 878.2,546.0 882.6,546.0 887.1,546.0 891.5,546.0 895.9,546.0 900.3,546.0 904.7,546.0 909.1,546.0 913.5,546.0 917.9,546.0 922.3,546.0 926.7,546.0 931.1,546.0 935.5,546.0 939.9,546.0 944.3,546.0 948.8,546.0 953.2,546.0 957.6,546.0 962.0,546.0 966.4,546.0 970.8,546.0 975.2,546.0 979.6,546.0 984.0,546.0 988.4,546.0 992.8,546.0 997.2,546.0 1001.6,546.0 1006.1,546.0 1010.5,546.0 1014.9,546.0 1019.3,546.0 1023.7,546.0 1028.1,546.0" fill="none" stroke="#24a77f" stroke-opacity="0.5" stroke-width="1.5" stroke-linejoin="round"/>
<polyline points="151.0,546.0 155.4,546.0 159.8,544.2 164.2,546.0 168.6,546.0 173.0,546.0 177.4,534.9 181.9,546.0 186.3,533.5 190.7,546.0 195.1,516.9 199.5,546.0 203.9,469.6 208.3,467.2 212.7,546.0 217.1,546.0 221.5,546.0 225.9,386.2 230.3,492.0 234.7,498.4 239.1,283.6 243.6,451.6 248.0,342.0 252.4,474.6 256.8,249.1 261.2,400.0 265.6,453.8 270.0,359.9 274.4,546.0 278.8,434.9 283.2,589.9 287.6,588.7 292.0,587.3 296.4,584.5 300.9,583.9 305.3,578.6 309.7,576.7 314.1,578.1 318.5,576.9 322.9,574.9 327.3,574.7 331.7,574.7 336.1,572.5 340.5,572.5 344.9,571.3 349.3,570.6 353.7,570.0 358.2,570.2 362.6,567.1 367.0,566.1 371.4,566.1 375.8,563.7 380.2,562.0 384.6,563.0 389.0,562.1 393.4,561.1 397.8,560.4 402.2,558.5 406.6,561.2 411.0,557.6 415.4,556.9 419.9,555.4 424.3,555.6 428.7,557.3 433.1,556.2 437.5,556.2 441.9,555.0 446.3,556.8 450.7,555.5 455.1,553.4 459.5,554.4 463.9,553.3 468.3,553.6 472.7,553.1 477.2,552.9 481.6,552.6 486.0,551.3 490.4,550.1 494.8,551.9 499.2,551.0 503.6,550.8 508.0,549.9 512.4,548.3 516.8,548.1 521.2,548.8 525.6,547.6 530.0,546.7 534.5,546.0 538.9,546.0 543.3,546.0 547.7,546.0 552.1,546.0 556.5,546.0 560.9,546.0 565.3,546.0 569.7,546.0 574.1,546.0 578.5,546.0 582.9,546.0 587.3,546.0 591.8,546.0 596.2,546.0 600.6,546.0 605.0,546.0 609.4,546.0 613.8,546.0 618.2,546.0 622.6,546.0 627.0,546.0 631.4,546.0 635.8,546.0 640.2,546.0 644.6,546.0 649.0,546.0 653.5,546.0 657.9,546.0 662.3,546.0 666.7,546.0 671.1,546.0 675.5,546.0 679.9,546.0 684.3,546.0 688.7,546.0 693.1,546.0 697.5,546.0 701.9,546.0 706.3,546.0 710.8,546.0 715.2,546.0 719.6,546.0 724.0,546.0 728.4,546.0 732.8,546.0 737.2,546.0 741.6,546.0 746.0,546.0 750.4,546.0 754.8,546.0 759.2,546.0 763.6,546.0 768.0,546.0 772.5,546.0 776.9,546.0 781.3,546.0 785.7,546.0 790.1,546.0 794.5,546.0 798.9,546.0 803.3,546.0 807.7,546.0 812.1,546.0 816.5,546.0 820.9,546.0 825.3,546.0 829.8,546.0 834.2,546.0 838.6,546.0 843.0,546.0 847.4,546.0 851.8,546.0 856.2,546.0 860.6,546.0 865.0,546.0 869.4,546.0 873.8,546.0 878.2,546.0 882.6,546.0 887.1,546.0 891.5,546.0 895.9,546.0 900.3,546.0 904.7,546.0 909.1,546.0 913.5,546.0 917.9,546.0 922.3,546.0 926.7,546.0 931.1,546.0 935.5,546.0 939.9,546.0 944.3,546.0 948.8,546.0 953.2,546.0 957.6,546.0 962.0,546.0 966.4,546.0 970.8,546.0 975.2,546.0 979.6,546.0 984.0,546.0 988.4,546.0 992.8,546.0 997.2,546.0 1001.6,546.0 1006.1,546.0 1010.5,546.0 1014.9,546.0 1019.3,546.0 1023.7,546.0 1028.1,546.0" fill="none" stroke="#247fa7" stroke-opacity="0.5" stroke-width="1.5" stroke-linejoin="round"/>
<polyline points="151.0,546.0 155.4,557.8 159.8,544.3 164.2,531.1 168.6,546.0 173.0,540.7 177.4,546.0 181.9,522.3 186.3,535.7 190.7,527.9 195.1,516.1 199.5,546.0 203.9,492.5 208.3,537.3 212.7,546.0 217.1,520.0 221.5,546.0 225.9,546.0 230.3,546.0 234.7,474.2 239.1,432.6 243.6,261.1 248.0,261.1 252.4,233.0 256.8,471.4 261.2,476.7 265.6,463.0 270.0,546.0 274.4,546.0 278.8,481.8 283.2,583.0 287.6,583.3 292.0,577.2 296.4,579.3 300.9,578.4 305.3,574.6 309.7,574.0 314.1,572.5 318.5,573.4 322.9,577.9 327.3,578.2 331.7,582.9 336.1,586.7 340.5,587.6 344.9,591.0 349.3,597.8 353.7,599.3 358.2,599.7 362.6,593.8 367.0,589.5 371.4,581.6 375.8,574.9 380.2,571.3 384.6,567.6 389.0,566.3 393.4,564.0 397.8,564.5 402.2,564.4 406.6,566.8 411.0,565.4 415.4,568.7 419.9,568.1 424.3,571.1 428.7,571.0 433.1,570.3 437.5,566.8 441.9,568.3 446.3,572.2 450.7,581.2 455.1,579.0 459.5,577.4 463.9,569.3 468.3,565.9 472.7,564.5 477.2,563.5 481.6,567.6 486.0,567.4 490.4,563.1 494.8,562.1 499.2,561.8 503.6,562.5 508.0,558.4 512.4,560.4 516.8,562.5 521.2,562.2 525.6,566.3 530.0,570.5 534.5,570.3 538.9,566.6 543.3,563.0 547.7,560.0 552.1,558.7 556.5,556.8 560.9,554.9 565.3,552.6 569.7,554.3 574.1,553.5 578.5,552.3 582.9,550.1 587.3,549.2 591.8,549.4 596.2,548.6 600.6,547.4 605.0,547.0 609.4,546.6 613.8,546.1 618.2,546.0 622.6,546.0 627.0,546.0 631.4,546.0 635.8,546.0 640.2,546.0 644.6,546.0 649.0,546.0 653.5,546.0 657.9,546.0 662.3,546.0 666.7,546.0 671.1,546.0 675.5,546.0 679.9,546.0 684.3,546.0 688.7,546.0 693.1,546.0 697.5,546.0 701.9,546.0 706.3,546.0 710.8,546.0 715.2,546.0 719.6,546.0 724.0,546.0 728.4,546.0 732.8,546.0 737.2,546.0 741.6,546.0 746.0,546.0 750.4,546.0 754.8,546.0 759.2,546.0 763.6,546.0 768.0,546.0 772.5,546.0 776.9,546.0 781.3,546.0 785.7,546.0 790.1,546.0 794.5,546.0 798.9,546.0 803.3,546.0 807.7,546.0 812.1,546.0 816.5,546.0 820.9,546.0 825.3,546.0 829.8,546.0 834.2,546.0 838.6,546.0 843.0,546.0 847.4,546.0 851.8,546.0 856.2,546.0 860.6,546.0 865.0,546.0 869.4,546.0 873.8,546.0 878.2,546.0 882.6,546.0 887.1,546.0 891.5,546.0 895.9,546.0 900.3,546.0 904.7,546.0 909.1,546.0 913.5,546.0 917.9,546.0 922.3,546.0 926.7,546.0 931.1,546.0 935.5,546.0 939.9,546.0 944.3,546.0 948.8,546.0 953.2,546.0 957.6,546.0 962.0,546.0 966.4,546.0 970.8,546.0 975.2,546.0 979.6,546.0 984.0,546.0 988.4,546.0 992.8,546.0 997.2,546.0 1001.6,546.0 1006.1,546.0 1010.5,546.0 1014.9,546.0 1019.3,546.0 1023.7,546.0 1028.1,546.0" fill="none" stroke="#125cd3" stroke-opacity="0.5" stroke-width="1.5" stroke-linejoin="round"/>
<polyline points="151.0,546.0 155.4,533.6 159.8,546.0 164.2,543.5 168.6,536.8 173.0,538.5 177.4,546.0 181.9,542.4 186.3,546.0 190.7,567.6 195.1,530.5 199.5,534.4 203.9,469.6 208.3,522.3 212.7,546.0 217.1,546.0 221.5,546.0 225.9,386.2 230.3,383.4 234.7,262.3 239.1,522.2 243.6,442.3 248.0,415.4 252.4,375.0 256.8,230.9 261.2,297.0 265.6,470.8 270.0,502.0 274.4,461.0 278.8,546.0 283.2,571.9 287.6,571.1 292.0,570.2 296.4,574.1 300.9,577.4 305.3,573.9 309.7,571.6 314.1,566.1 318.5,560.2 322.9,563.7 327.3,566.0 331.7,567.2 336.1,569.7 340.5,568.1 344.9,566.1 349.3,562.5 353.7,560.9 358.2,560.8 362.6,559.1 367.0,558.9 371.4,558.2 375.8,555.3 380.2,554.4 384.6,552.7 389.0,553.1 393.4,551.4 397.8,550.1 402.2,549.6 406.6,548.9 411.0,548.6 415.4,548.9 419.9,548.3 424.3,548.5 428.7,549.3 433.1,549.8 437.5,550.0 441.9,552.1 446.3,552.4 450.7,551.9 455.1,552.9 459.5,553.9 463.9,553.4 468.3,551.4 472.7,552.4 477.2,552.2 481.6,553.9 486.0,550.3 490.4,551.9 494.8,550.3 499.2,550.0 503.6,548.6 508.0,548.8 512.4,549.8 516.8,549.9 521.2,550.9 525.6,550.8 530.0,550.7 534.5,551.2 538.9,551.3 543.3,551.4 547.7,552.4 552.1,550.2 556.5,549.0 560.9,549.5 565.3,550.4 569.7,549.8 574.1,549.4 578.5,548.8 582.9,547.7 587.3,547.3 591.8,546.5 596.2,546.3 600.6,546.0 605.0,546.0 609.4,546.0 613.8,546.0 618.2,546.0 622.6,546.0 627.0,546.0 631.4,546.0 635.8,546.0 640.2,546.0 644.6,546.0 649.0,546.0 653.5,546.0 657.9,546.0 662.3,546.0 666.7,546.0 671.1,546.0 675.5,546.0 679.9,546.0 684.3,546.0 688.7,546.0 693.1,546.0 697.5,546.0 701.9,546.0 706.3,546.0 710.8,546.0 715.2,546.0 719.6,546.0 724.0,546.0 728.4,546.0 732.8,546.0 737.2,546.0 741.6,546.0 746.0,546.0 750.4,546.0 754.8,546.0 759.2,546.0 763.6,546.0 768.0,546.0 772.5,546.0 776.9,546.0 781.3,546.0 785.7,546.0 790.1,546.0 794.5,546.0 798.9,546.0 803.3,546.0 807.7,546.0 812.1,546.0 816.5,546.0 820.9,546.0 825.3,546.0 829.8,546.0 834.2,546.0 838.6,546.0 843.0,546.0 847.4,546.0 851.8,546.0 856.2,546.0 860.6,546.0 865.0,546.0 869.4,546.0 873.8,546.0 878.2,546.0 882.6,546.0 887.1,546.0 891.5,546.0 895.9,546.0 900.3,546.0 904.7,546.0 909.1,546.0 913.5,546.0 917.9,546.0 922.3,546.0 926.7,546.0 931.1,546.0 935.5,546.0 939.9,546.0 944.3,546.0 948.8,546.0 953.2,546.0 957.6,546.0 962.0,546.0 966.4,546.0 970.8,546.0 975.2,546.0 979.6,546.0 984.0,546.0 988.4,546.0 992.8,546.0 997.2,546.0 1001.6,546.0 1006.1,546.0 1010.5,546.0 1014.9,546.0 1019.3,546.0 1023.7,546.0 1028.1,546.0" fill="none" stroke="#0039ff" stroke-opacity="0.5" stroke-width="1.5" stroke-linejoin="round"/>
<polyline points="151.0,546.0 155.4,546.0 159.8,546.0 164.2,546.0 168.6,538.8 173.0,546.0 177.4,546.0 181.9,546.0 186.3,546.0 190.7,523.3 195.1,525.6 199.5,546.0 203.9,528.0 208.3,470.7 212.7,462.6 217.1,520.7 221.5,448.0 225.9,462.5 230.3,546.0 234.7,381.3 239.1,397.3 243.6,402.7 248.0,270.6 252.4,337.0 256.8,332.3 261.2,379.5 265.6,423.1 270.0,468.1 274.4,546.0 278.8,494.6 283.2,585.0 287.6,584.3 292.0,581.8 296.4,584.4 300.9,582.7 305.3,580.1 309.7,581.8 314.1,580.9 318.5,580.6 322.9,580.5 327.3,578.4 331.7,575.3 336.1,576.7 340.5,577.1 344.9,577.7 349.3,575.8 353.7,575.4 358.2,575.6 362.6,574.6 367.0,573.8 371.4,573.6 375.8,571.9 380.2,573.5 384.6,571.2 389.0,571.2 393.4,570.5 397.8,569.6 402.2,570.7 406.6,571.9 411.0,573.1 415.4,572.8 419.9,572.0 424.3,573.6 428.7,572.3 433.1,573.8 437.5,575.2 441.9,575.6 446.3,573.3 450.7,571.8 455.1,574.0 459.5,572.1 463.9,569.7 468.3,568.7 472.7,569.1 477.2,569.7 481.6,568.3 486.0,568.8 490.4,567.7 494.8,567.3 499.2,567.4 503.6,565.9 508.0,566.0 512.4,565.2 516.8,564.6 521.2,565.3 525.6,563.3 530.0,563.0 534.5,561.4 538.9,561.0 543.3,559.8 547.7,560.5 552.1,559.1 556.5,558.0 560.9,558.7 565.3,554.2 569.7,554.3 574.1,552.4 578.5,554.2 582.9,555.1 587.3,555.4 591.8,555.0 596.2,553.5 600.6,555.6 605.0,554.6 609.4,553.6 613.8,552.2 618.2,553.2 622.6,552.5 627.0,552.1 631.4,552.5 635.8,552.5 640.2,551.3 644.6,552.9 649.0,551.2 653.5,550.5 657.9,551.5 662.3,551.6 666.7,551.5 671.1,550.9 675.5,551.1 679.9,550.5 684.3,549.6 688.7,551.4 693.1,550.5 697.5,551.0 701.9,551.7 706.3,550.7 710.8,551.6 715.2,548.9 719.6,549.7 724.0,551.7 728.4,552.7 732.8,551.7 737.2,551.1 741.6,554.1 746.0,553.0 750.4,553.5 754.8,553.9 759.2,552.0 763.6,551.1 768.0,551.3 772.5,550.4 776.9,550.2 781.3,549.1 785.7,549.2 790.1,548.5 794.5,548.0 798.9,549.3 803.3,548.9 807.7,548.7 812.1,547.4 816.5,546.8 820.9,546.1 825.3,546.0 829.8,546.0 834.2,546.0 838.6,546.0 843.0,546.0 847.4,546.0 851.8,546.0 856.2,546.0 860.6,546.0 865.0,546.0 869.4,546.0 873.8,546.0 878.2,546.0 882.6,546.0 887.1,546.0 891.5,546.0 895.9,546.0 900.3,546.0 904.7,546.0 909.1,546.0 913.5,546.0 917.9,546.0 922.3,546.0 926.7,546.0 931.1,546.0 935.5,546.0 939.9,546.0 944.3,546.0 948.8,546.0 953.2,546.0 957.6,546.0 962.0,546.0 966.4,546.0 970.8,546.0 975.2,546.0 979.6,546.0 984.0,546.0 988.4,546.0 992.8,546.0 997.2,546.0 1001.6,546.0 1006.1,546.0 1010.5,546.0 1014.9,546.0 1019.3,546.0 1023.7,546.0 1028.1,546.0" fill="none" stroke="#272cf7" stroke-opacity="0.5" stroke-width="1.5" stroke-linejoin="round"/>
<polyline points="151.0,546.0 155.4,554.4 159.8,534.4 164.2,538.1 168.6,534.3 173.0,528.5 177.4,546.0 181.9,546.0 186.3,546.0 190.7,546.0 195.1,510.0 199.5,531.1 203.9,540.5 208.3,498.7 212.7,523.3 217.1,546.0 221.5,471.6 225.9,407.4 230.3,546.0 234.7,484.5 239.1,414.7 243.6,291.6 248.0,276.1 252.4,440.2 256.8,453.4 261.2,454.3 265.6,422.5 270.0,462.1 274.4,546.0 278.8,546.0 283.2,597.4 287.6,599.8 292.0,599.2 296.4,596.3 300.9,604.9 305.3,599.7 309.7,595.3 314.1,593.6 318.5,596.2 322.9,595.1 327.3,592.9 331.7,591.9 336.1,591.6 340.5,588.1 344.9,582.7 349.3,579.5 353.7,576.3 358.2,574.2 362.6,575.8 367.0,573.6 371.4,572.2 375.8,571.9 380.2,570.9 384.6,570.9 389.0,570.5 393.4,569.3 397.8,569.0 402.2,569.2 406.6,569.0 411.0,568.8 415.4,568.7 419.9,567.8 424.3,567.4 428.7,566.1 433.1,566.2 437.5,567.9 441.9,565.7 446.3,567.7 450.7,571.2 455.1,566.5 459.5,568.0 463.9,564.7 468.3,565.3 472.7,566.5 477.2,566.4 481.6,563.7 486.0,562.1 490.4,561.2 494.8,562.5 499.2,561.4 503.6,561.0 508.0,560.6 512.4,560.3 516.8,560.1 521.2,559.3 525.6,557.0 530.0,559.1 534.5,555.2 538.9,557.7 543.3,556.3 547.7,556.0 552.1,555.1 556.5,554.5 560.9,554.2 565.3,553.4 569.7,551.9 574.1,553.1 578.5,551.8 582.9,552.9 587.3,551.5 591.8,550.4 596.2,550.6 600.6,550.6 605.0,549.2 609.4,548.8 613.8,549.2 618.2,548.0 622.6,547.5 627.0,547.3 631.4,546.7 635.8,546.2 640.2,546.0 644.6,546.0 649.0,546.0 653.5,546.0 657.9,546.0 662.3,546.0 666.7,546.0 671.1,546.0 675.5,546.0 679.9,546.0 684.3,546.0 688.7,546.0 693.1,546.0 697.5,546.0 701.9,546.0 706.3,546.0 710.8,546.0 715.2,546.0 719.6,546.0 724.0,546.0 728.4,546.0 732.8,546.0 737.2,546.0 741.6,546.0 746.0,546.0 750.4,546.0 754.8,546.0 759.2,546.0 763.6,546.0 768.0,546.0 772.5,546.0 776.9,546.0 781.3,546.0 785.7,546.0 790.1,546.0 794.5,546.0 798.9,546.0 803.3,546.0 807.7,546.0 812.1,546.0 816.5,546.0 820.9,546.0 825.3,546.0 829.8,546.0 834.2,546.0 838.6,546.0 843.0,546.0 847.4,546.0 851.8,546.0 856.2,546.0 860.6,546.0 865.0,546.0 869.4,546.0 873.8,546.0 878.2,546.0 882.6,546.0 887.1,546.0 891.5,546.0 895.9,546.0 900.3,546.0 904.7,546.0 909.1,546.0 913.5,546.0 917.9,546.0 922.3,546.0 926.7,546.0 931.1,546.0 935.5,546.0 939.9,546.0 944.3,546.0 948.8,546.0 953.2,546.0 957.6,546.0 962.0,546.0 966.4,546.0 970.8,546.0 975.2,546.0 979.6,546.0 984.0,546.0 988.4,546.0 992.8,546.0 997.2,546.0 1001.6,546.0 1006.1,546.0 1010.5,546.0 1014.9,546.0 1019.3,546.0 1023.7,546.0 1028.1,546.0" fill="none" stroke="#4e1fef" stroke-opacity="0.5" stroke-width="1.5" stroke-linejoin="round"/>
<polyline points="151.0,534.2 155.4,543.2 159.8,546.0 164.2,546.0 168.6,546.0 173.0,542.6 177.4,530.1 181.9,530.1 186.3,559.8 190.7,509.0 195.1,532.2 199.5,527.5 203.9,546.0 208.3,455.7 212.7,513.1 217.1,546.0 221.5,495.1 225.9,546.0 230.3,546.0 234.7,447.9 239.1,406.2 243.6,261.1 248.0,444.5 252.4,486.8 256.8,399.0 261.2,295.0 265.6,461.9 270.0,268.0 274.4,381.6 278.8,494.5 283.2,600.1 287.6,602.3 292.0,602.3 296.4,599.2 300.9,598.7 305.3,603.0 309.7,600.9 314.1,596.5 318.5,596.6 322.9,598.3 327.3,596.2 331.7,595.5 336.1,596.8 340.5,595.1 344.9,594.4 349.3,589.4 353.7,587.5 358.2,581.0 362.6,577.2 367.0,577.1 371.4,576.9 375.8,573.7 380.2,572.6 384.6,572.1 389.0,571.8 393.4,569.6 397.8,571.5 402.2,569.5 406.6,567.0 411.0,565.2 415.4,566.6 419.9,566.0 424.3,562.2 428.7,560.9 433.1,560.5 437.5,557.0 441.9,555.7 446.3,556.3 450.7,553.4 455.1,551.8 459.5,549.6 463.9,548.7 468.3,548.1 472.7,546.6 477.2,546.0 481.6,546.0 486.0,546.0 490.4,546.0 494.8,546.0 499.2,546.0 503.6,546.0 508.0,546.0 512.4,546.0 516.8,546.0 521.2,546.0 525.6,546.0 530.0,546.0 534.5,546.0 538.9,546.0 543.3,546.0 547.7,546.0 552.1,546.0 556.5,546.0 560.9,546.0 565.3,546.0 569.7,546.0 574.1,546.0 578.5,546.0 582.9,546.0 587.3,546.0 591.8,546.0 596.2,546.0 600.6,546.0 605.0,546.0 609.4,546.0 613.8,546.0 618.2,546.0 622.6,546.0 627.0,546.0 631.4,546.0 635.8,546.0 640.2,546.0 644.6,546.0 649.0,546.0 653.5,546.0 657.9,546.0 662.3,546.0 666.7,546.0 671.1,546.0 675.5,546.0 679.9,546.0 684.3,546.0 688.7,546.0 693.1,546.0 697.5,546.0 701.9,546.0 706.3,546.0 710.8,546.0 715.2,546.0 719.6,546.0 724.0,546.0 728.4,546.0 732.8,546.0 737.2,546.0 741.6,546.0 746.0,546.0 750.4,546.0 754.8,546.0 759.2,546.0 763.6,546.0 768.0,546.0 772.5,546.0 776.9,546.0 781.3,546.0 785.7,546.0 790.1,546.0 794.5,546.0 798.9,546.0 803.3,546.0 807.7,546.0 812.1,546.0 816.5,546.0 820.9,546.0 825.3,546.0 829.8,546.0 834.2,546.0 838.6,546.0 843.0,546.0 847.4,546.0 851.8,546.0 856.2,546.0 860.6,546.0 865.0,546.0 869.4,546.0 873.8,546.0 878.2,546.0 882.6,546.0 887.1,546.0 891.5,546.0 895.9,546.0 900.3,546.0 904.7,546.0 909.1,546.0 913.5,546.0 917.9,546.0 922.3,546.0 926.7,546.0 931.1,546.0 935.5,546.0 939.9,546.0 944.3,546.0 948.8,546.0 953.2,546.0 957.6,546.0 962.0,546.0 966.4,546.0 970.8,546.0 975.2,546.0 979.6,546.0 984.0,546.0 988.4,546.0 992.8,546.0 997.2,546.0 1001.6,546.0 1006.1,546.0 1010.5,546.0 1014.9,546.0 1019.3,546.0 1023.7,546.0 1028.1,546.0" fill="none" stroke="#6f14ec" stroke-opacity="0.5" stroke-width="1.5" stroke-linejoin="round"/>
<polyline points="151.0,530.1 155.4,546.0 159.8,546.0 164.2,546.0 168.6,546.0 173.0,546.0 177.4,494.7 181.9,546.0 186.3,531.6 190.7,516.7 195.1,536.9 199.5,537.7 203.9,546.0 208.3,470.7 212.7,546.0 217.1,448.2 221.5,529.9 225.9,513.7 230.3,447.8 234.7,497.3 239.1,485.7 243.6,384.8 248.0,460.6 252.4,256.0 256.8,411.7 261.2,478.6 265.6,427.9 270.0,562.9 274.4,635.7 278.8,635.7 283.2,580.1 287.6,580.3 292.0,581.6 296.4,583.4 300.9,584.3 305.3,585.4 309.7,583.4 314.1,584.6 318.5,585.1 322.9,586.2 327.3,584.2 331.7,583.7 336.1,581.9 340.5,582.1 344.9,581.5 349.3,579.6 353.7,578.7 358.2,578.2 362.6,578.1 367.0,575.9 371.4,576.9 375.8,575.5 380.2,576.8 384.6,576.6 389.0,574.3 393.4,573.1 397.8,575.5 402.2,574.0 406.6,573.0 411.0,571.2 415.4,570.5 419.9,570.8 424.3,571.3 428.7,570.3 433.1,572.4 437.5,572.4 441.9,570.8 446.3,571.5 450.7,569.9 455.1,569.8 459.5,567.8 463.9,567.7 468.3,565.2 472.7,566.0 477.2,563.9 481.6,564.9 486.0,563.2 490.4,565.7 494.8,567.7 499.2,568.5 503.6,568.5 508.0,565.3 512.4,566.3 516.8,565.8 521.2,562.2 525.6,561.2 530.0,560.6 534.5,560.5 538.9,560.3 543.3,556.9 547.7,558.3 552.1,557.3 556.5,555.6 560.9,557.1 565.3,558.6 569.7,560.8 574.1,559.2 578.5,557.0 582.9,557.1 587.3,556.0 591.8,557.1 596.2,558.6 600.6,562.3 605.0,567.3 609.4,569.8 613.8,564.8 618.2,565.1 622.6,563.4 627.0,562.1 631.4,559.3 635.8,558.9 640.2,560.8 644.6,561.4 649.0,563.9 653.5,564.6 657.9,561.2 662.3,559.6 666.7,559.7 671.1,561.3 675.5,563.3 679.9,562.8 684.3,559.4 688.7,557.4 693.1,556.3 697.5,554.2 701.9,554.7 706.3,553.2 710.8,557.0 715.2,556.2 719.6,555.1 724.0,553.7 728.4,552.1 732.8,550.1 737.2,548.8 741.6,548.1 746.0,547.7 750.4,546.9 754.8,546.0 759.2,546.0 763.6,546.0 768.0,546.0 772.5,546.0 776.9,546.0 781.3,546.0 785.7,546.0 790.1,546.0 794.5,546.0 798.9,546.0 803.3,546.0 807.7,546.0 812.1,546.0 816.5,546.0 820.9,546.0 825.3,546.0 829.8,546.0 834.2,546.0 838.6,546.0 843.0,546.0 847.4,546.0 851.8,546.0 856.2,546.0 860.6,546.0 865.0,546.0 869.4,546.0 873.8,546.0 878.2,546.0 882.6,546.0 887.1,546.0 891.5,546.0 895.9,546.0 900.3,546.0 904.7,546.0 909.1,546.0 913.5,546.0 917.9,546.0 922.3,546.0 926.7,546.0 931.1,546.0 935.5,546.0 939.9,546.0 944.3,546.0 948.8,546.0 953.2,546.0 957.6,546.0 962.0,546.0 966.4,546.0 970.8,546.0 975.2,546.0 979.6,546.0 984.0,546.0 988.4,546.0 992.8,546.0 997.2,546.0 1001.6,546.0 1006.1,546.0 1010.5,546.0 1014.9,546.0 1019.3,546.0 1023.7,546.0 1028.1,546.0" fill="none" stroke="#8c0aef" stroke-opacity="0.5" stroke-width="1.5" stroke-linejoin="round"/>
<polyline points="151.0,541.9 155.4,546.0 159.8,536.0 164.2,546.0 168.6,535.4 173.0,546.0 177.4,535.7 181.9,519.8 186.3,546.0 190.7,546.0 195.1,546.0 199.5,532.5 203.9,546.0 208.3,546.0 212.7,427.9 217.1,546.0 221.5,546.0 225.9,546.0 230.3,546.0 234.7,440.7 239.1,459.1 243.6,457.3 248.0,402.4 252.4,313.0 256.8,437.9 261.2,453.9 265.6,411.8 270.0,454.9 274.4,429.3 278.8,546.0 283.2,581.9 287.6,578.0 292.0,578.0 296.4,574.8 300.9,572.3 305.3,570.8 309.7,568.7 314.1,566.9 318.5,567.1 322.9,565.0 327.3,565.5 331.7,563.4 336.1,561.8 340.5,560.2 344.9,559.4 349.3,558.8 353.7,559.8 358.2,560.6 362.6,557.0 367.0,557.0 371.4,557.2 375.8,555.6 380.2,555.2 384.6,555.1 389.0,552.6 393.4,554.6 397.8,554.2 402.2,553.8 406.6,553.6 411.0,553.4 415.4,554.7 419.9,551.8 424.3,550.4 428.7,548.1 433.1,546.8 437.5,546.0 441.9,546.0 446.3,546.0 450.7,546.0 455.1,546.0 459.5,546.0 463.9,546.0 468.3,546.0 472.7,546.0 477.2,546.0 481.6,546.0 486.0,546.0 490.4,546.0 494.8,546.0 499.2,546.0 503.6,546.0 508.0,546.0 512.4,546.0 516.8,546.0 521.2,546.0 525.6,546.0 530.0,546.0 534.5,546.0 538.9,546.0 543.3,546.0 547.7,546.0 552.1,546.0 556.5,546.0 560.9,546.0 565.3,546.0 569.7,546.0 574.1,546.0 578.5,546.0 582.9,546.0 587.3,546.0 591.8,546.0 596.2,546.0 600.6,546.0 605.0,546.0 609.4,546.0 613.8,546.0 618.2,546.0 622.6,546.0 627.0,546.0 631.4,546.0 635.8,546.0 640.2,546.0 644.6,546.0 649.0,546.0 653.5,546.0 657.9,546.0 662.3,546.0 666.7,546.0 671.1,546.0 675.5,546.0 679.9,546.0 684.3,546.0 688.7,546.0 693.1,546.0 697.5,546.0 701.9,546.0 706.3,546.0 710.8,546.0 715.2,546.0 719.6,546.0 724.0,546.0 728.4,546.0 732.8,546.0 737.2,546.0 741.6,546.0 746.0,546.0 750.4,546.0 754.8,546.0 759.2,546.0 763.6,546.0 768.0,546.0 772.5,546.0 776.9,546.0 781.3,546.0 785.7,546.0 790.1,546.0 794.5,546.0 798.9,546.0 803.3,546.0 807.7,546.0 812.1,546.0 816.5,546.0 820.9,546.0 825.3,546.0 829.8,546.0 834.2,546.0 838.6,546.0 843.0,546.0 847.4,546.0 851.8,546.0 856.2,546.0 860.6,546.0 865.0,546.0 869.4,546.0 873.8,546.0 878.2,546.0 882.6,546.0 887.1,546.0 891.5,546.0 895.9,546.0 900.3,546.0 904.7,546.0 909.1,546.0 913.5,546.0 917.9,546.0 922.3,546.0 926.7,546.0 931.1,546.0 935.5,546.0 939.9,546.0 944.3,546.0 948.8,546.0 953.2,546.0 957.6,546.0 962.0,546.0 966.4,546.0 970.8,546.0 975.2,546.0 979.6,546.0 984.0,546.0 988.4,546.0 992.8,546.0 997.2,546.0 1001.6,546.0 1006.1,546.0 1010.5,546.0 1014.9,546.0 1019.3,546.0 1023.7,546.0 1028.1,546.0" fill="none" stroke="#a900f1" stroke-opacity="0.5" stroke-width="1.5" stroke-linejoin="round"/>
<polyline points="150.8,550.1 154.7,550.6 159.0,548.5 163.9,546.2 169.0,544.2 174.3,542.3 182.0,540.2 189.9,539.7 194.0,538.3 197.7,534.5 201.5,530.2 205.5,524.0 209.5,514.5 213.3,504.5 216.5,498.2 219.8,492.8 223.0,488.5 226.4,484.5 229.0,476.5 231.6,466.8 234.2,457.8 236.8,448.5 239.4,438.5 242.0,427.7 245.0,405.0 247.7,382.9 250.0,396.0 252.4,409.5 254.4,412.8 256.3,413.4 260.2,413.4 262.2,418.0 264.1,427.7 266.0,442.0 268.0,459.0 270.0,470.5 271.9,479.8 274.5,493.6 277.1,508.4 279.0,528.0 281.0,560.0 283.2,588.3 287.6,586.8 292.0,585.3 296.4,583.9 300.8,582.5 305.2,581.4 309.6,580.3 314.1,579.2 318.5,578.1 322.9,577.3 327.3,576.5 331.7,575.6 336.1,574.8 340.5,574.0 344.9,573.2 349.3,572.4 353.7,571.6 358.1,570.8 362.5,570.0 366.9,569.2 371.4,568.4 375.8,567.6 380.2,567.0 384.6,566.4 389.0,565.8 393.4,565.2 397.8,564.6 402.2,564.0 406.6,563.4 411.0,562.8 415.4,562.2 419.8,561.8 424.2,561.4 428.6,561.1 433.1,560.7 437.5,560.4 441.9,560.0 446.3,559.7 450.7,559.4 455.1,559.1 459.5,558.9 463.9,558.6 468.3,558.3 472.7,558.0 477.1,557.7 481.5,557.4 485.9,557.1 490.4,556.8 494.8,556.5 499.2,556.3 503.6,556.0 508.0,555.8 512.4,555.5 516.8,555.3 521.2,555.0 525.6,554.8 530.0,554.6 534.4,554.3 538.8,554.1 543.2,553.8 547.7,553.6 552.1,553.4 556.5,553.2 560.9,553.0 565.3,552.8 569.7,552.6 574.1,552.4 578.5,552.2 582.9,552.0 587.3,551.8 591.7,551.6 596.1,551.4 600.5,551.2 604.9,551.1 609.4,551.0 613.8,550.9 618.2,550.8 622.6,550.7 627.0,550.6 631.4,550.5 635.8,550.4 640.2,550.3 644.6,550.2 649.0,550.1 653.4,550.0 657.8,549.9 662.2,549.8 666.7,549.7 671.1,549.6 675.5,549.5 679.9,549.4 684.3,549.3 688.7,549.2 693.1,549.2 697.5,549.1 701.9,549.0 706.3,549.0 710.7,548.9 715.1,548.9 719.5,548.8 724.0,548.7 728.4,548.7 732.8,548.6 737.2,548.5 741.6,548.5 746.0,548.4 750.4,548.3 754.8,548.3 759.2,548.2 763.6,548.2 768.0,548.1 772.4,548.1 776.8,548.1 781.2,548.0 785.7,548.0 790.1,547.9 794.5,547.9 798.9,547.9 803.3,547.8 807.7,547.8 812.1,547.8 816.5,547.7 820.9,547.7 825.3,547.6 829.7,547.6 834.1,547.6 838.5,547.5 843.0,547.5 847.4,547.5 851.8,547.5 856.2,547.4 860.6,547.4 865.0,547.4 869.4,547.4 873.8,547.4 878.2,547.4 882.6,547.3 887.0,547.3 891.4,547.3 895.8,547.3 900.3,547.3 904.7,547.2 909.1,547.2 913.5,547.2 917.9,547.2 922.3,547.2 926.7,547.1 931.1,547.1 935.5,547.1 939.9,547.1 944.3,547.0 948.7,547.0 953.1,547.0 957.5,547.0 962.0,546.9 966.4,546.9 970.8,546.9 975.2,546.9 979.6,546.8 984.0,546.8 988.4,546.8 992.8,546.8 997.2,546.7 1001.6,546.7 1006.0,546.7 1010.4,546.6 1014.8,546.6 1019.3,546.6 1023.7,546.5 1028.1,546.5" fill="none" stroke="#000" stroke-width="1.6" stroke-linejoin="round"/></g>
<text x="307" y="405" font-family="'Liberation Sans', sans-serif" font-size="14.5" fill="#a020f0">Feb 12</text>
<text x="272" y="429" font-family="'Liberation Sans', sans-serif" font-size="14.5" fill="#006400">Feb 04</text>
<text x="302.5" y="454" font-family="'Liberation Sans', sans-serif" font-size="14.5" fill="#0000ff">Feb 11</text>
<line x1="243.4" y1="34.5" x2="243.4" y2="664.5" stroke="#0a5a05" stroke-width="1.7"/>
<line x1="274.4" y1="34.5" x2="274.4" y2="664.5" stroke="#0000ff" stroke-width="1.6"/>
<line x1="278.9" y1="34.5" x2="278.9" y2="664.5" stroke="#9a10ee" stroke-width="1.7"/>
<g clip-path="url(#pc)">
<rect x="230" y="34.5" width="40" height="630.0" fill="#006400" fill-opacity="0.15"/>
<rect x="248" y="34.5" width="32" height="630.0" fill="#a020f0" fill-opacity="0.19"/>
</g>
<line x1="107" y1="34.5" x2="1072" y2="34.5" stroke="#737373" stroke-width="1"/>
<line x1="107" y1="664.5" x2="1072" y2="664.5" stroke="#666" stroke-width="1"/>
<line x1="107.5" y1="34" x2="107.5" y2="665" stroke="#606060" stroke-width="1"/>
<line x1="1071.5" y1="34" x2="1071.5" y2="665" stroke="#777" stroke-width="1"/>
<line x1="103.2" y1="40.01" x2="107.5" y2="40.01" stroke="#333" stroke-width="1.5"/>
<text x="100" y="47.71" font-family="'Liberation Sans', sans-serif" font-size="20" fill="#4d4d4d" text-anchor="end">0.00015</text>
<line x1="103.2" y1="208.67" x2="107.5" y2="208.67" stroke="#333" stroke-width="1.5"/>
<text x="100" y="216.37" font-family="'Liberation Sans', sans-serif" font-size="20" fill="#4d4d4d" text-anchor="end">0.00010</text>
<line x1="103.2" y1="377.34" x2="107.5" y2="377.34" stroke="#333" stroke-width="1.5"/>
<text x="100" y="385.04" font-family="'Liberation Sans', sans-serif" font-size="20" fill="#4d4d4d" text-anchor="end">0.00005</text>
<line x1="103.2" y1="546.00" x2="107.5" y2="546.00" stroke="#333" stroke-width="1.5"/>
<text x="100" y="553.70" font-family="'Liberation Sans', sans-serif" font-size="20" fill="#4d4d4d" text-anchor="end">0.00000</text>
<line x1="151.00" y1="664.5" x2="151.00" y2="668.8" stroke="#333" stroke-width="1.5"/>
<text transform="translate(150.50,672.2) rotate(-45)" font-family="'Liberation Sans', sans-serif" font-size="20" fill="#4d4d4d" text-anchor="end" dominant-baseline="hanging">01/13/20</text>
<line x1="283.23" y1="664.5" x2="283.23" y2="668.8" stroke="#333" stroke-width="1.5"/>
<text transform="translate(282.73,672.2) rotate(-45)" font-family="'Liberation Sans', sans-serif" font-size="20" fill="#4d4d4d" text-anchor="end" dominant-baseline="hanging">02/12/20</text>
<line x1="415.45" y1="664.5" x2="415.45" y2="668.8" stroke="#333" stroke-width="1.5"/>
<text transform="translate(414.95,672.2) rotate(-45)" font-family="'Liberation Sans', sans-serif" font-size="20" fill="#4d4d4d" text-anchor="end" dominant-baseline="hanging">03/13/20</text>
<line x1="547.67" y1="664.5" x2="547.67" y2="668.8" stroke="#333" stroke-width="1.5"/>
<text transform="translate(547.17,672.2) rotate(-45)" font-family="'Liberation Sans', sans-serif" font-size="20" fill="#4d4d4d" text-anchor="end" dominant-baseline="hanging">04/12/20</text>
<line x1="679.90" y1="664.5" x2="679.90" y2="668.8" stroke="#333" stroke-width="1.5"/>
<text transform="translate(679.40,672.2) rotate(-45)" font-family="'Liberation Sans', sans-serif" font-size="20" fill="#4d4d4d" text-anchor="end" dominant-baseline="hanging">05/12/20</text>
<line x1="812.12" y1="664.5" x2="812.12" y2="668.8" stroke="#333" stroke-width="1.5"/>
<text transform="translate(811.62,672.2) rotate(-45)" font-family="'Liberation Sans', sans-serif" font-size="20" fill="#4d4d4d" text-anchor="end" dominant-baseline="hanging">06/11/20</text>
<line x1="944.35" y1="664.5" x2="944.35" y2="668.8" stroke="#333" stroke-width="1.5"/>
<text transform="translate(943.85,672.2) rotate(-45)" font-family="'Liberation Sans', sans-serif" font-size="20" fill="#4d4d4d" text-anchor="end" dominant-baseline="hanging">07/11/20</text>
<text x="589.3" y="22.9" font-family="'Liberation Sans', sans-serif" font-size="21.3" font-weight="bold" fill="#000" text-anchor="middle">spaghetti plot of infection prevalence</text>
<text x="589.1" y="756.9" font-family="'Liberation Sans', sans-serif" font-size="18.6" fill="#000" text-anchor="middle">time</text>
<text transform="translate(20.7,349.6) rotate(-90)" font-family="'Liberation Sans', sans-serif" font-size="18.6" fill="#000" text-anchor="middle">1st order derivative</text>
<defs><linearGradient id="cb" x1="0" y1="0" x2="0" y2="1"><stop offset="0" stop-color="#d47af8"/><stop offset="0.13" stop-color="#b08cf5"/><stop offset="0.263" stop-color="#7f9cff"/><stop offset="0.395" stop-color="#96c8c8"/><stop offset="0.526" stop-color="#80ff9a"/><stop offset="0.66" stop-color="#b8ff88"/><stop offset="0.79" stop-color="#e2ff78"/><stop offset="0.895" stop-color="#f5c878"/><stop offset="1" stop-color="#ff8080"/></linearGradient></defs>
<rect x="1094" y="302.7" width="23" height="115.1" fill="url(#cb)"/>
<line x1="1094" y1="393.57" x2="1098.6" y2="393.57" stroke="#fff" stroke-width="1"/>
<line x1="1112.4" y1="393.57" x2="1117" y2="393.57" stroke="#fff" stroke-width="1"/>
<text x="1124.2" y="397.97" font-family="'Liberation Sans', sans-serif" font-size="12.2" fill="#000">5</text>
<line x1="1094" y1="363.28" x2="1098.6" y2="363.28" stroke="#fff" stroke-width="1"/>
<line x1="1112.4" y1="363.28" x2="1117" y2="363.28" stroke="#fff" stroke-width="1"/>
<text x="1124.2" y="367.68" font-family="'Liberation Sans', sans-serif" font-size="12.2" fill="#000">10</text>
<line x1="1094" y1="332.99" x2="1098.6" y2="332.99" stroke="#fff" stroke-width="1"/>
<line x1="1112.4" y1="332.99" x2="1117" y2="332.99" stroke="#fff" stroke-width="1"/>
<text x="1124.2" y="337.39" font-family="'Liberation Sans', sans-serif" font-size="12.2" fill="#000">15</text>
<line x1="1094" y1="302.70" x2="1098.6" y2="302.70" stroke="#fff" stroke-width="1"/>
<line x1="1112.4" y1="302.70" x2="1117" y2="302.70" stroke="#fff" stroke-width="1"/>
<text x="1124.2" y="307.10" font-family="'Liberation Sans', sans-serif" font-size="12.2" fill="#000">20</text>
<text x="1093.3" y="293.7" font-family="'Liberation Sans', sans-serif" font-size="14.4" fill="#000">id</text>
</svg>
</body></html>
